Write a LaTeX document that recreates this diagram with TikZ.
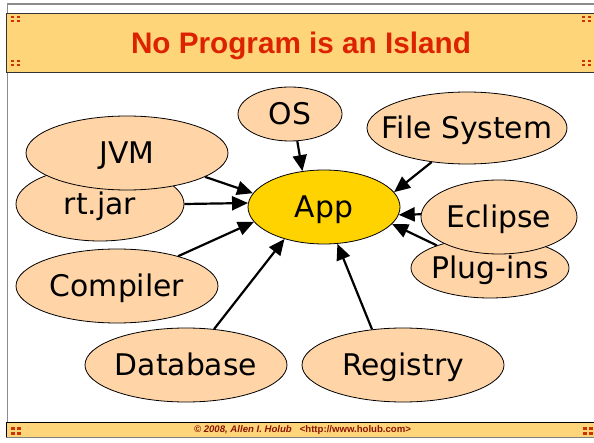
\documentclass[tikz,border=0pt]{standalone}
\usepackage{fontspec}
\setmainfont{DejaVu Sans}
\newfontfamily\arialf{Liberation Sans}
\usetikzlibrary{arrows.meta,shapes.geometric}
\definecolor{peach}{RGB}{255,213,168}
\definecolor{gold}{RGB}{255,211,0}
\definecolor{barfill}{RGB}{255,213,122}
\definecolor{titlered}{RGB}{221,34,0}
\definecolor{footred}{RGB}{140,20,0}
\definecolor{dotred}{RGB}{204,51,0}
\begin{document}
\begin{tikzpicture}[x=1pt,y=-1pt,
  oval/.style={ellipse, draw=black, line width=0.8pt, fill=peach, inner sep=0pt,
    font=\fontsize{29.8}{31}\selectfont, text height=21.5pt, text depth=0pt},
  link/.style={line width=2.2pt, -{Triangle[length=16pt,width=14pt]}},
  dot/.style={fill=dotred, draw=none},
]
\useasboundingbox[fill=white] (0,0) rectangle (594,443);
% frame lines
\draw[gray!90, line width=1.5pt] (7.6,437) -- (7.6,4) -- (594,4);
% title bar
\draw[fill=barfill, draw=black!80, line width=0.8pt] (6,13) rectangle (600,72);
\node[anchor=base, text=titlered, font=\arialf\bfseries\fontsize{29.7}{31}\selectfont] (title) at (301,54) {No Program is an Island};
\foreach \x in {11,17,582,588}{
  \foreach \y in {16,20,60,64}{
    \fill[dot] (\x,\y) rectangle ++(3,2.2);
  }
}
% footer bar
\draw[fill=barfill, draw=black, line width=0.8pt] (6,422) rectangle (600,437);
\draw[gray, line width=1.2pt] (6,437.5) -- (600,437.5);
\foreach \x in {11,17,583,589}{
  \foreach \y in {426.5,431.5}{
    \fill[dot] (\x,\y) rectangle ++(3.5,3.5);
  }
}
\node[text=footred, font=\arialf\bfseries\fontsize{9.6}{10}\selectfont] (foot) at (302.5,430)
  {{\itshape\textcopyright{} 2008, Allen I. Holub}\hspace{8pt}<http://www.holub.com>};
% ellipses
\node[oval, minimum width=152pt, minimum height=74pt, fill=gold] (App) at (324,207) {\makebox[0pt]{App}};
\node[oval, minimum width=104pt, minimum height=54pt] (OS) at (290,114) {\makebox[0pt]{OS}};
\node[oval, minimum width=200pt, minimum height=72pt] (FS) at (467,128) {\makebox[0pt]{File System}};
\node[oval, minimum width=158pt, minimum height=60pt] (Plug) at (490,268) {\makebox[0pt]{Plug-ins}};
\node[oval, minimum width=156pt, minimum height=74pt] (Eclipse) at (499,217) {\makebox[0pt]{Eclipse}};
\node[oval, minimum width=168pt, minimum height=74pt] (RT) at (100,204) {\makebox[0pt]{rt.jar}};
\node[oval, minimum width=202pt, minimum height=74pt] (JVM) at (127,153) {\makebox[0pt]{JVM}};
\node[oval, minimum width=202pt, minimum height=74pt] (Comp) at (117,286) {\makebox[0pt]{Compiler}};
\node[oval, minimum width=202pt, minimum height=74pt] (DB) at (186,365) {\makebox[0pt]{Database}};
\node[oval, minimum width=202pt, minimum height=74pt] (Reg) at (403,365) {\makebox[0pt]{Registry}};
% connectors
\draw[link] (OS.-75.5) -- (App.121.9);
\draw[link] (JVM.-17.8) -- (App.169.3);
\draw[link] (RT.0) -- (App.177.7);
\draw[link] (Comp.26.2) -- (App.-168.1);
\draw[link] (DB.52.9) -- (App.-141.2);
\draw[link] (Reg.131.4) -- (App.-70.4);
\draw[link] (FS.-136.6) -- (App.12.4);
\draw[link] (Eclipse.178) -- (App.-6);
\draw[link] (Plug.157.7) -- (App.-14.6);
\end{tikzpicture}
\end{document}
